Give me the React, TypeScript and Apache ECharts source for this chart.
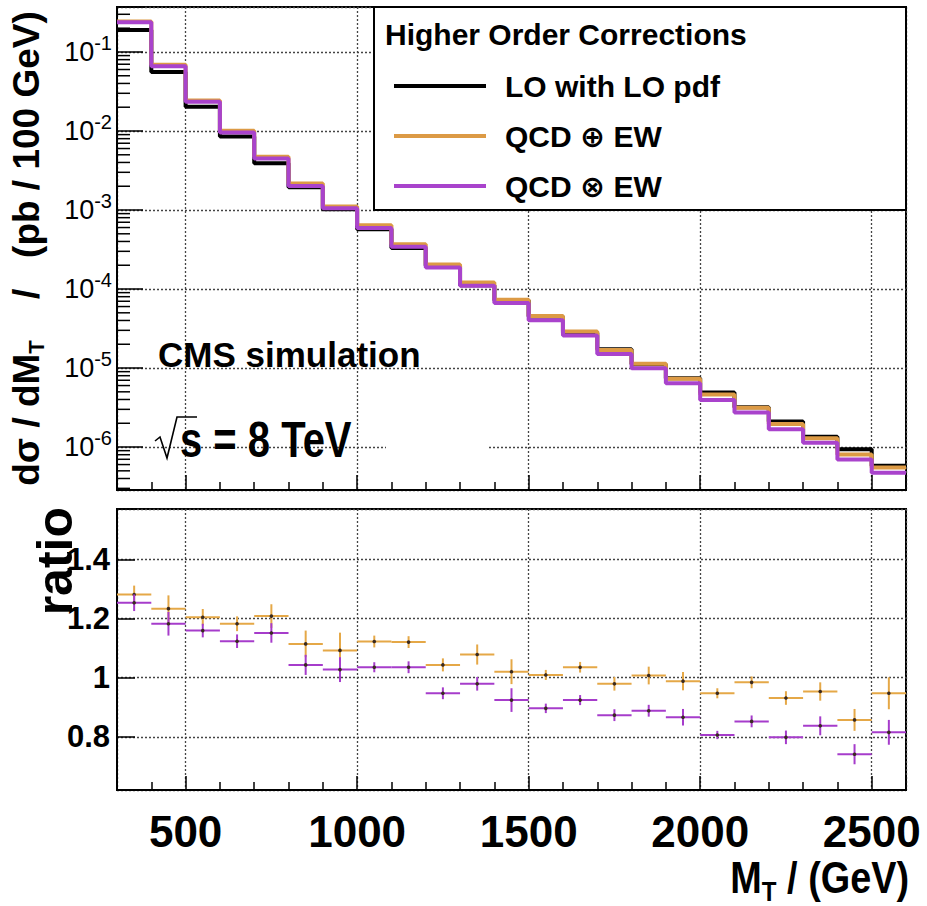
import React, { useEffect, useRef } from "react";
import * as echarts from "echarts";

// Histogram binning in M_T (GeV)
const binEdges = [300, 400, 500, 600, 700, 800, 900, 1000, 1100, 1200, 1300, 1400, 1500, 1600, 1700, 1800, 1900, 2000, 2100, 2200, 2300, 2400, 2500, 2600];
const binCenters = [350, 450, 550, 650, 750, 850, 950, 1050, 1150, 1250, 1350, 1450, 1550, 1650, 1750, 1850, 1950, 2050, 2150, 2250, 2350, 2450, 2550];
const binHalfWidth = 50;

// dσ/dM_T in pb / 100 GeV
const loValues = [0.19, 0.056, 0.0203, 0.0085, 0.0039, 0.00194, 0.00102, 5.7e-4, 3.3e-4, 1.97e-4, 1.12e-4, 7.2e-5, 4.5e-5, 2.8e-5, 1.73e-5, 1.12e-5, 7.4e-6, 4.9e-6, 3.2e-6, 2.1e-6, 1.35e-6, 9.4e-7, 5.8e-7];
const qcdPlusEwValues = [0.243, 0.069, 0.0244, 0.01005, 0.00471, 0.00216, 0.00111, 6.4e-4, 3.7e-4, 2.05e-4, 1.21e-4, 7.34e-5, 4.54e-5, 2.9e-5, 1.69e-5, 1.13e-5, 7.31e-6, 4.64e-6, 3.15e-6, 1.96e-6, 1.29e-6, 8.06e-7, 5.49e-7];
const qcdTimesEwValues = [0.238, 0.0662, 0.0235, 0.00955, 0.00449, 0.00202, 0.00105, 5.9e-4, 3.42e-4, 1.87e-4, 1.1e-4, 6.65e-5, 4.03e-5, 2.59e-5, 1.51e-5, 9.95e-6, 6.41e-6, 3.95e-6, 2.73e-6, 1.68e-6, 1.13e-6, 6.97e-7, 4.73e-7];

// Ratios to LO and their uncertainties
const ratioPlus = [1.281, 1.233, 1.204, 1.182, 1.208, 1.114, 1.092, 1.122, 1.12, 1.043, 1.078, 1.02, 1.009, 1.035, 0.979, 1.007, 0.988, 0.947, 0.984, 0.931, 0.953, 0.857, 0.947];
const errPlus = [0.03, 0.045, 0.028, 0.025, 0.04, 0.045, 0.06, 0.02, 0.02, 0.022, 0.034, 0.042, 0.017, 0.018, 0.023, 0.03, 0.031, 0.017, 0.02, 0.023, 0.031, 0.037, 0.054];
const ratioTimes = [1.253, 1.182, 1.159, 1.123, 1.151, 1.043, 1.027, 1.035, 1.035, 0.947, 0.979, 0.924, 0.896, 0.924, 0.873, 0.888, 0.866, 0.806, 0.852, 0.798, 0.837, 0.741, 0.815];
const errTimes = [0.028, 0.04, 0.023, 0.023, 0.033, 0.034, 0.042, 0.017, 0.02, 0.02, 0.023, 0.04, 0.016, 0.017, 0.02, 0.02, 0.028, 0.014, 0.02, 0.023, 0.032, 0.034, 0.042];

// Axis ranges
const xMin = 300;
const xMax = 2600;
const yMinTop = 2.86e-7;
const yMaxTop = 0.371;
const yMinRatio = 0.62;
const yMaxRatio = 1.57;

// Log-axis minor tick positions
const logDecades = [1e-7, 1e-6, 1e-5, 1e-4, 1e-3, 1e-2, 1e-1];
const minorMantissas = [2, 3, 4, 5, 6, 7, 8, 9];

const seriesNames = ["LO with LO pdf", "QCD \u2295 EW", "QCD \u2297 EW"];
const seriesColors = ["#000000", "#DC9A45", "#A943CC"];
const crossColors = ["#E5A847", "#A63CCB"];

const FONT = '"Liberation Sans", Arial, Helvetica, "DejaVu Sans", sans-serif';

const stepData = (vals: number[]) =>
  binEdges.map((x, i) => [x, vals[Math.min(i, vals.length - 1)]]);

const crossRenderer = (color: string) => (params: any, api: any) => {
  const x = api.value(0);
  const y = api.value(1);
  const e = api.value(2);
  const l = api.coord([x - binHalfWidth, y]);
  const r = api.coord([x + binHalfWidth, y]);
  const t = api.coord([x, y + e]);
  const b = api.coord([x, y - e]);
  const c = api.coord([x, y]);
  return {
    type: "group",
    children: [
      { type: "line", shape: { x1: l[0], y1: l[1], x2: r[0], y2: r[1] }, style: { stroke: color, lineWidth: 2 } },
      { type: "line", shape: { x1: t[0], y1: t[1], x2: b[0], y2: b[1] }, style: { stroke: color, lineWidth: 2 } },
      { type: "circle", shape: { cx: c[0], cy: c[1], r: 1.8 }, style: { fill: "#3a2a20" } },
    ],
  };
};

const dotted = { color: "#444", type: [2, 2] as any, width: 1.3 };

export default function App() {
  const ref = useRef<HTMLDivElement>(null);

  useEffect(() => {
    if (!ref.current) return;
    const chart = echarts.init(ref.current, undefined, { renderer: "svg" });

    const minorTickValues = logDecades
      .flatMap((d) => minorMantissas.map((m) => m * d))
      .filter((v) => v > yMinTop && v < yMaxTop);

    const option: any = {
      animation: false,
      backgroundColor: "#ffffff",
      grid: [
        { left: 117, top: 7, width: 789, height: 483, show: true, borderColor: "#000", borderWidth: 2, containLabel: false, outerBoundsMode: "none" },
        { left: 117, top: 509, width: 789, height: 281, show: true, borderColor: "#000", borderWidth: 2, containLabel: false, outerBoundsMode: "none" },
      ],
      xAxis: [
        {
          type: "value",
          gridIndex: 0,
          min: xMin,
          max: xMax,
          axisLine: { show: true, onZero: false, lineStyle: { color: "#000", width: 2 } },
          axisTick: { show: true, inside: true, length: 15, lineStyle: { color: "#000", width: 1.5 } },
          minorTick: { show: true, splitNumber: 5, length: 8, lineStyle: { color: "#000", width: 1.5 } },
          axisLabel: { show: false },
          splitLine: { show: true, lineStyle: dotted },
        },
        {
          type: "value",
          gridIndex: 1,
          min: xMin,
          max: xMax,
          axisLine: { show: true, onZero: false, lineStyle: { color: "#000", width: 2 } },
          axisTick: { show: true, inside: true, length: 14, lineStyle: { color: "#000", width: 1.5 } },
          minorTick: { show: true, splitNumber: 5, length: 8, lineStyle: { color: "#000", width: 1.5 } },
          axisLabel: {
            show: true,
            margin: 19,
            fontFamily: FONT,
            fontWeight: "bold",
            fontSize: 44,
            color: "#000",
            formatter: (v: number) => (v % 500 === 0 ? String(v) : ""),
          },
          splitLine: { show: true, lineStyle: dotted },
        },
      ],
      yAxis: [
        {
          type: "log",
          logBase: 10,
          gridIndex: 0,
          min: yMinTop,
          max: yMaxTop,
          axisLine: { show: true, onZero: false, lineStyle: { color: "#000", width: 2 } },
          axisTick: { show: true, inside: true, length: 26, lineStyle: { color: "#000", width: 1.5 } },
          axisLabel: {
            show: true,
            margin: 5,
            color: "#000",
            formatter: (v: number) => {
              const lg = Math.log10(v);
              const e = Math.round(lg);
              if (Math.abs(lg - e) > 1e-6) return "";
              return `{b|10}{s|${e}}`;
            },
            rich: {
              b: { fontFamily: FONT, fontSize: 27, color: "#000" },
              s: { fontFamily: FONT, fontSize: 20, color: "#000", padding: [0, 0, 18, 0] },
            },
          },
          splitLine: { show: true, lineStyle: dotted },
          name: "d\u03c3 / dM{sub|T}    /   (pb / 100 GeV)",
          nameLocation: "middle",
          nameGap: 70,
          nameTextStyle: {
            fontFamily: FONT,
            fontWeight: "bold",
            fontSize: 37,
            color: "#000",
            rich: {
              sub: { fontFamily: FONT, fontWeight: "bold", fontSize: 22, color: "#000", padding: [20, 0, 0, 0] },
            },
          },
        },
        {
          type: "value",
          gridIndex: 1,
          min: yMinRatio,
          max: yMaxRatio,
          axisLine: { show: true, onZero: false, lineStyle: { color: "#000", width: 2 } },
          axisTick: { show: true, inside: true, length: 18, lineStyle: { color: "#000", width: 1.5 } },
          axisLabel: {
            show: true,
            margin: 7,
            fontFamily: FONT,
            fontWeight: "bold",
            fontSize: 31,
            color: "#000",
            formatter: (v: number) => (Math.abs(v * 5 - Math.round(v * 5)) < 1e-6 ? String(Math.round(v * 10) / 10) : ""),
          },
          splitLine: { show: true, lineStyle: dotted },
        },
      ],
      legend: {
        data: seriesNames,
        orient: "vertical",
        left: 394,
        top: 71,
        padding: 0,
        itemWidth: 92,
        itemHeight: 4,
        itemGap: 20,
        icon: "rect",
        selectedMode: false,
        z: 5,
        textStyle: {
          fontFamily: FONT,
          fontWeight: "bold",
          fontSize: 30,
          lineHeight: 30,
          color: "#000",
          padding: [0, 0, 0, 14],
        },
      },
      graphic: [
        {
          type: "rect",
          z: 1,
          shape: { x: 374, y: 7, width: 532, height: 203 },
          style: { fill: "#fff", stroke: "#000", lineWidth: 2 },
        },
        {
          type: "rect",
          z: 1,
          shape: { x: 386, y: 443, width: 102, height: 7 },
          style: { fill: "#fff" },
        },
        {
          type: "text",
          z: 6,
          x: 385,
          y: 34,
          style: { text: "Higher Order Corrections", font: `bold 30px ${FONT}`, fill: "#000", textAlign: "left", textVerticalAlign: "middle" },
        },
        {
          type: "text",
          z: 6,
          x: 158,
          y: 354,
          style: { text: "CMS simulation", font: `bold 35px ${FONT}`, fill: "#000", textAlign: "left", textVerticalAlign: "middle" },
        },
        {
          type: "polyline",
          z: 6,
          shape: { points: [[155, 441], [160, 437], [167, 458], [177, 417], [197, 417]] },
          style: { stroke: "#000", lineWidth: 1.6, fill: null },
        },
        {
          type: "text",
          z: 6,
          x: 180,
          y: 440,
          scaleX: 0.8,
          style: { text: "s = 8 TeV", font: `bold 50px ${FONT}`, fill: "#000", textAlign: "left", textVerticalAlign: "middle" },
        },
        {
          type: "text",
          z: 6,
          x: 55,
          y: 507,
          rotation: Math.PI / 2,
          style: { text: "ratio", font: `bold 50px ${FONT}`, fill: "#000", textAlign: "right", textVerticalAlign: "middle" },
        },
        {
          type: "text",
          z: 6,
          x: 909,
          y: 878,
          scaleX: 0.86,
          style: {
            text: "M{sub|T} / (GeV)",
            font: `bold 44px ${FONT}`,
            fill: "#000",
            textAlign: "right",
            textVerticalAlign: "middle",
            rich: {
              sub: { font: `bold 28px ${FONT}`, fill: "#000", padding: [26, 0, 0, 0] },
            },
          },
        },
      ],
      series: [
        {
          type: "custom",
          name: "log minor ticks",
          xAxisIndex: 0,
          yAxisIndex: 0,
          silent: true,
          data: minorTickValues.map((v) => [xMin, v]),
          encode: { x: 0, y: 1 },
          renderItem: (params: any, api: any) => {
            const c = api.coord([api.value(0), api.value(1)]);
            return { type: "line", shape: { x1: c[0], y1: c[1], x2: c[0] + 13, y2: c[1] }, style: { stroke: "#000", lineWidth: 1.5 } };
          },
        },
        ...[loValues, qcdPlusEwValues, qcdTimesEwValues].map((vals, i) => ({
          type: "line",
          name: seriesNames[i],
          xAxisIndex: 0,
          yAxisIndex: 0,
          step: "end",
          data: stepData(vals),
          symbol: "none",
          showSymbol: false,
          clip: true,
          lineStyle: { color: seriesColors[i], width: 4 },
          itemStyle: { color: seriesColors[i] },
        })),
        {
          type: "custom",
          name: "ratio QCD+EW",
          xAxisIndex: 1,
          yAxisIndex: 1,
          clip: true,
          data: binCenters.map((c, i) => [c, ratioPlus[i], errPlus[i]]),
          encode: { x: 0, y: 1 },
          renderItem: crossRenderer(crossColors[0]),
        },
        {
          type: "custom",
          name: "ratio QCDxEW",
          xAxisIndex: 1,
          yAxisIndex: 1,
          clip: true,
          data: binCenters.map((c, i) => [c, ratioTimes[i], errTimes[i]]),
          encode: { x: 0, y: 1 },
          renderItem: crossRenderer(crossColors[1]),
        },
      ],
    };

    chart.setOption(option);
    return () => chart.dispose();
  }, []);

  return (
    <div
      ref={ref}
      style={{ position: "absolute", left: 0, top: 0, width: 927, height: 906, background: "#fff" }}
    />
  );
}
